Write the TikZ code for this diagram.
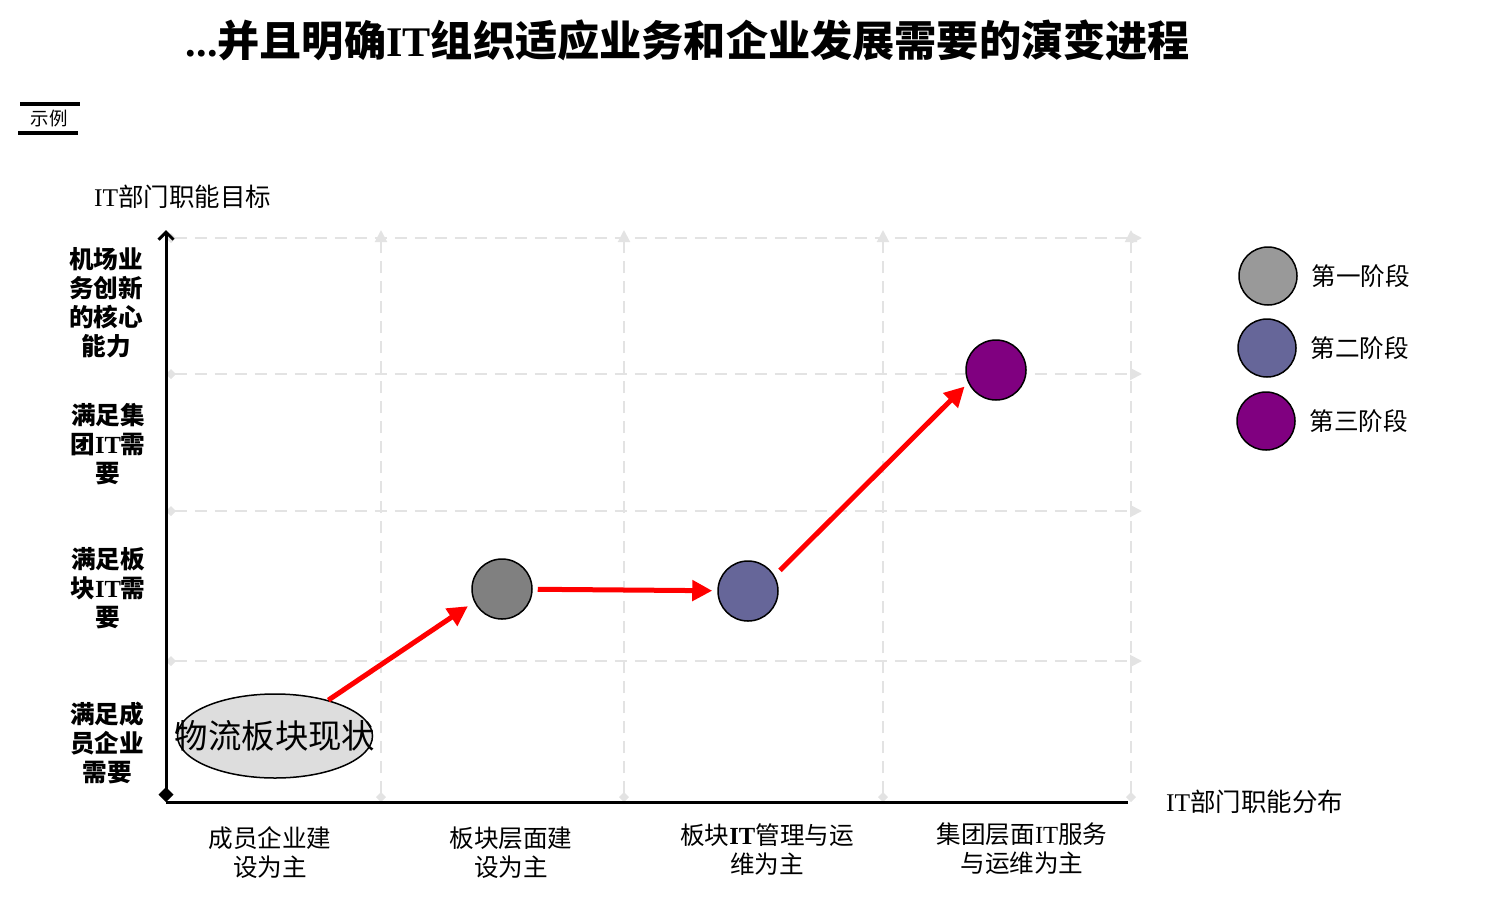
\documentclass[tikz,border=0pt]{standalone}
\usepackage{fontspec}
\setmainfont{Noto Sans CJK SC}
\newfontfamily\latin{Liberation Serif}
\usetikzlibrary{arrows.meta,positioning,shapes.geometric}
\newcommand{\IT}{{\latin\bfseries IT}}
\definecolor{stageone}{HTML}{808080}
\definecolor{stageonelight}{HTML}{999999}
\definecolor{stagetwo}{HTML}{666699}
\definecolor{stagethree}{HTML}{800080}
\definecolor{gridgray}{HTML}{E3E3E3}

\begin{document}
\begin{tikzpicture}[x=0.2mm, y=-0.2mm,
    gridline/.style={gridgray, line width=0.4mm, dash pattern=on 2.4mm off 1.6mm, {Diamond[length=2mm,width=2mm]}-{Triangle[length=2.4mm,width=2.4mm]}},
    axis/.style={line width=0.6mm, black},
    stage/.style={circle, draw, line width=0.3mm, minimum size=12mm, inner sep=0pt},
    ylab/.style={align=center, font=\bfseries\fontsize{14}{16.5}\selectfont},
    xlab/.style={align=center, font=\fontsize{14}{16.5}\selectfont},
    legtext/.style={anchor=west, font=\fontsize{14}{16}\selectfont},
    evolve/.style={-{Triangle[length=4mm,width=4mm]}, red, line width=1mm}
  ]
    \useasboundingbox (0,0) rectangle (1487,897);

    % title and tag
    \node[font=\fontsize{24}{28}\selectfont\bfseries] (title) at (688,40)
      {{\latin\bfseries...}并且明确\IT 组织适应业务和企业发展需要的演变进程};
    \node[font=\fontsize{10.5}{12}\selectfont, inner sep=1pt] (tag) at (49,118) {示例};
    \draw[line width=0.8mm] (20,104) -- (80,104);
    \draw[line width=0.8mm] (18,133) -- (78,133);

    % grid
    \foreach \gy in {238,374,511,661}
      \draw[gridline] (166,\gy) -- (1142,\gy);
    \foreach \gx in {381,624,883,1131}
      \draw[gridline] (\gx,802) -- (\gx,230);

    % axes
    \draw[axis, {Diamond[length=3mm,width=3mm]}-{Straight Barb[length=1.5mm]}] (166,802) -- (166,230);
    \draw[axis] (166,802) -- (1128,802);
    \node[font=\fontsize{14.5}{16}\selectfont, anchor=west] (ytitle) at (88,197) {{\latin IT}部门职能目标};
    \node[font=\fontsize{14.5}{16}\selectfont, anchor=west] (xtitle) at (1160,802) {{\latin IT}部门职能分布};

    % y labels
    \node[ylab] (y4) at (106,303) {机场业\\务创新\\的核心\\能力};
    \node[ylab] (y3) at (108,444) {满足集\\团\IT 需\\要};
    \node[ylab] (y2) at (108,588) {满足板\\块\IT 需\\要};
    \node[ylab] (y1) at (107,743) {满足成\\员企业\\需要};

    % x labels
    \node[xlab] (x1) at (270,853) {成员企业建\\设为主};
    \node[xlab] (x2) at (511,853) {板块层面建\\设为主};
    \node[xlab] (x3) at (767,850) {板块\IT 管理与运\\维为主};
    \node[xlab] (x4) at (1022,849) {集团层面{\latin IT}服务\\与运维为主};

    % path
    \node[ellipse, draw, line width=0.3mm, fill=gray!27, minimum width=39mm, minimum height=16.8mm, inner sep=0pt,
          label={[font=\fontsize{19}{22}\selectfont]center:物流板块现状}] (now) at (275,736) {};
    \node[stage, fill=stageone] (s1) at (502,589) {};
    \node[stage, fill=stagetwo] (s2) at (748,591) {};
    \node[stage, fill=stagethree] (s3) at (996,370) {};
    \draw[evolve, shorten >=1.5mm] (now) -- (s1.205);
    \draw[evolve, shorten <=1mm, shorten >=1mm] (s1) -- (s2);
    \draw[evolve, shorten <=1.5mm, shorten >=1mm] (s2.30) -- (s3.205);

    % legend
    \node[stage, fill=stageonelight, minimum size=11.6mm] (l1) at (1268,276) {};
    \node[stage, fill=stagetwo, minimum size=11.6mm] (l2) at (1267,348) {};
    \node[stage, fill=stagethree, minimum size=11.6mm] (l3) at (1266,421) {};
    \node[legtext, right=1.5mm of l1] (t1) {第一阶段};
    \node[legtext, right=1.5mm of l2] (t2) {第二阶段};
    \node[legtext, right=1.5mm of l3] (t3) {第三阶段};
\end{tikzpicture}
\end{document}
